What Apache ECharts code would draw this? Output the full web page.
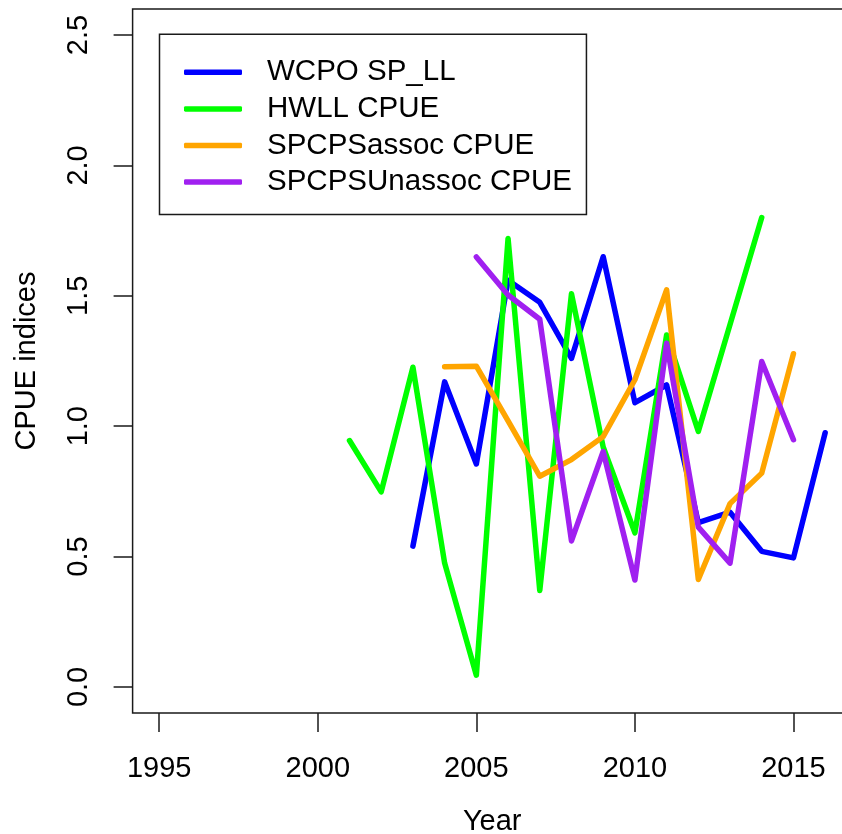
<!DOCTYPE html>
<html>
<head>
<meta charset="utf-8">
<script src="https://cdn.jsdelivr.net/npm/echarts@6/dist/echarts.min.js"></script>
<style>
html,body{margin:0;padding:0;background:#fff;}
#chart{width:842px;height:834px;}
</style>
</head>
<body>
<div id="chart"></div>
<script>
// ---- data ----
const seriesNames = ['WCPO SP_LL', 'HWLL CPUE', 'SPCPSassoc CPUE', 'SPCPSUnassoc CPUE'];
const wcpoYears = [2003,2004,2005,2006,2007,2008,2009,2010,2011,2012,2013,2014,2015,2016];
const wcpoValues = [0.54,1.17,0.855,1.56,1.475,1.26,1.65,1.09,1.158,0.63,0.67,0.52,0.495,0.975];
const hwllYears = [2001,2002,2003,2004,2005,2006,2007,2008,2009,2010,2011,2012,2013,2014];
const hwllValues = [0.945,0.748,1.226,0.475,0.045,1.72,0.37,1.508,0.92,0.591,1.35,0.98,1.39,1.80];
const assocYears = [2004,2005,2006,2007,2008,2009,2010,2011,2012,2013,2014,2015];
const assocValues = [1.228,1.23,1.02,0.808,0.872,0.96,1.178,1.523,0.412,0.703,0.82,1.278];
const unassocYears = [2005,2006,2007,2008,2009,2010,2011,2012,2013,2014,2015];
const unassocValues = [1.649,1.503,1.41,0.56,0.903,0.41,1.318,0.613,0.475,1.248,0.948];
const xTicks = [1995,2000,2005,2010,2015];
const yTicks = [0,0.5,1,1.5,2,2.5];
const xTitle = 'Year';
const yTitle = 'CPUE indices';

const colors = ['#0000FF','#00FF00','#FFA500','#A020F0'];
const FONT = "'Liberation Sans', Arial, sans-serif";

function pairs(xs, ys){ return xs.map((x,i)=>[x, ys[i]]); }
const allData = [
  pairs(wcpoYears, wcpoValues),
  pairs(hwllYears, hwllValues),
  pairs(assocYears, assocValues),
  pairs(unassocYears, unassocValues)
];

const chart = echarts.init(document.getElementById('chart'), null, {renderer:'canvas'});
chart.setOption({
  animation: false,
  backgroundColor: '#fff',
  grid: {
    left: 132.6, top: 9, right: -9.8, bottom: 121,
    outerBoundsMode: 'none',
    containLabel: false,
    show: true, borderColor: '#1a1a1a', borderWidth: 1.5, backgroundColor: 'transparent'
  },
  legend: {
    orient: 'vertical',
    left: 159.5, top: 34.3,
    padding: [20, 14.5, 14.5, 24.5],
    borderColor: '#1a1a1a', borderWidth: 1.5,
    itemGap: 0.6,
    itemWidth: 58, itemHeight: 5.5,
    icon: 'roundRect',
    textStyle: {
      fontFamily: FONT, fontSize: 29.5, color: '#000', lineHeight: 36,
      padding: [0, 0, 0, 20]
    },
    data: seriesNames
  },
  xAxis: {
    type: 'value',
    min: 1994.16, max: 2016.84,
    name: xTitle, nameLocation: 'middle', nameGap: 94,
    nameTextStyle: {fontFamily: FONT, fontSize: 29, color: '#000'},
    splitLine: {show: false},
    axisLine: {show: false, onZero: false},
    axisTick: {show: true, inside: false, length: 19, customValues: xTicks,
      lineStyle: {color: '#1a1a1a', width: 1.5}},
    axisLabel: {customValues: xTicks, margin: 41, fontFamily: FONT, fontSize: 29, color: '#000',
      formatter: v => String(v)}
  },
  yAxis: {
    type: 'value',
    min: -0.1, max: 2.6,
    name: yTitle, nameLocation: 'middle', nameGap: 91, nameRotate: 90,
    nameTextStyle: {fontFamily: FONT, fontSize: 29, color: '#000'},
    splitLine: {show: false},
    axisLine: {show: false, onZero: false},
    axisTick: {show: true, inside: false, length: 19, customValues: yTicks,
      lineStyle: {color: '#1a1a1a', width: 1.5}},
    axisLabel: {customValues: yTicks, margin: 39, rotate: 90, fontFamily: FONT, fontSize: 29, color: '#000',
      formatter: v => v.toFixed(1)}
  },
  series: seriesNames.map((n, i) => ({
    name: n,
    type: 'line',
    data: allData[i],
    symbol: 'none',
    color: colors[i],
    lineStyle: {color: colors[i], width: 5.5, join: 'round', cap: 'round'},
    itemStyle: {color: colors[i]}
  }))
});
</script>
</body>
</html>
